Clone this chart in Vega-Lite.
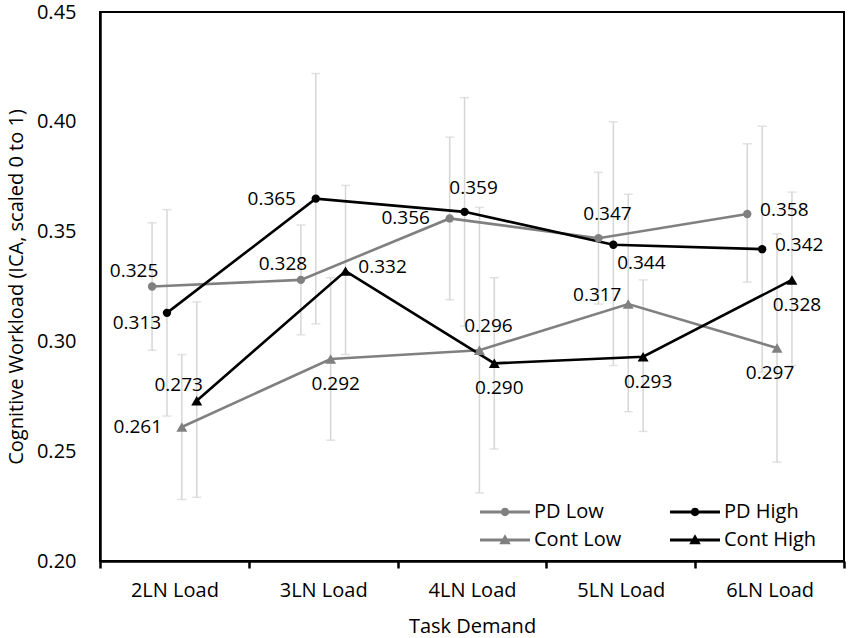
{
  "$schema": "https://vega.github.io/schema/vega-lite/v6.json",
  "width": 744,
  "height": 549,
  "autosize": {"type": "none"},
  "padding": {"left": 100, "top": 12, "right": 6, "bottom": 77},
  "data": {
    "values": [
      {"task": "2LN Load", "series": "PD Low", "mean": 0.325, "lo": 0.296, "hi": 0.354},
      {"task": "2LN Load", "series": "PD High", "mean": 0.313, "lo": 0.266, "hi": 0.360},
      {"task": "2LN Load", "series": "Cont Low", "mean": 0.261, "lo": 0.228, "hi": 0.294},
      {"task": "2LN Load", "series": "Cont High", "mean": 0.273, "lo": 0.229, "hi": 0.318},
      {"task": "3LN Load", "series": "PD Low", "mean": 0.328, "lo": 0.303, "hi": 0.353},
      {"task": "3LN Load", "series": "PD High", "mean": 0.365, "lo": 0.308, "hi": 0.422},
      {"task": "3LN Load", "series": "Cont Low", "mean": 0.292, "lo": 0.255, "hi": 0.329},
      {"task": "3LN Load", "series": "Cont High", "mean": 0.332, "lo": 0.294, "hi": 0.371},
      {"task": "4LN Load", "series": "PD Low", "mean": 0.356, "lo": 0.319, "hi": 0.393},
      {"task": "4LN Load", "series": "PD High", "mean": 0.359, "lo": 0.307, "hi": 0.411},
      {"task": "4LN Load", "series": "Cont Low", "mean": 0.296, "lo": 0.231, "hi": 0.361},
      {"task": "4LN Load", "series": "Cont High", "mean": 0.290, "lo": 0.251, "hi": 0.329},
      {"task": "5LN Load", "series": "PD Low", "mean": 0.347, "lo": 0.317, "hi": 0.377},
      {"task": "5LN Load", "series": "PD High", "mean": 0.344, "lo": 0.289, "hi": 0.400},
      {"task": "5LN Load", "series": "Cont Low", "mean": 0.317, "lo": 0.268, "hi": 0.367},
      {"task": "5LN Load", "series": "Cont High", "mean": 0.293, "lo": 0.259, "hi": 0.328},
      {"task": "6LN Load", "series": "PD Low", "mean": 0.358, "lo": 0.327, "hi": 0.390},
      {"task": "6LN Load", "series": "PD High", "mean": 0.342, "lo": 0.286, "hi": 0.398},
      {"task": "6LN Load", "series": "Cont Low", "mean": 0.297, "lo": 0.245, "hi": 0.349},
      {"task": "6LN Load", "series": "Cont High", "mean": 0.328, "lo": 0.289, "hi": 0.368}
    ]
  },
  "encoding": {
    "x": {
      "field": "task", "type": "nominal", "sort": null, "title": "Task Demand",
      "scale": {"paddingInner": 0, "paddingOuter": 0},
      "axis": {"labelAngle": 0, "tickBand": "extent", "tickSize": 7, "tickWidth": 2.5, "tickColor": "#000", "labelPadding": 12, "titlePadding": 16}
    },
    "xOffset": {
      "field": "series", "type": "nominal",
      "scale": {"domain": ["_a", "_b", "_c", "PD Low", "PD High", "Cont Low", "Cont High", "_d", "_e", "_f"], "paddingInner": 0, "paddingOuter": 0}
    },
    "y": {
      "field": "mean", "type": "quantitative", "title": "Cognitive Workload (ICA, scaled 0 to 1)",
      "scale": {"domain": [0.2, 0.45], "nice": false, "zero": false},
      "axis": {"values": [0.2, 0.25, 0.3, 0.35, 0.4, 0.45], "format": ".2f", "ticks": false, "labelPadding": 24, "titlePadding": 10}
    },
    "color": {
      "field": "series", "type": "nominal",
      "scale": {"domain": ["PD Low", "PD High", "Cont Low", "Cont High"], "range": ["#808080", "#000000", "#808080", "#000000"]},
      "legend": {"title": null}
    }
  },
  "layer": [
    {
      "mark": {"type": "rule", "strokeWidth": 1.5},
      "encoding": {
        "y": {"field": "lo", "type": "quantitative", "title": "Cognitive Workload (ICA, scaled 0 to 1)", "scale": {"domain": [0.2, 0.45], "nice": false, "zero": false}},
        "y2": {"field": "hi"},
        "color": {"value": "#d6d6d6"}
      }
    },
    {
      "mark": {"type": "tick", "size": 9, "thickness": 1.5},
      "encoding": {
        "y": {"field": "lo", "type": "quantitative", "title": "Cognitive Workload (ICA, scaled 0 to 1)", "scale": {"domain": [0.2, 0.45], "nice": false, "zero": false}},
        "color": {"value": "#d6d6d6"}
      }
    },
    {
      "mark": {"type": "tick", "size": 9, "thickness": 1.5},
      "encoding": {
        "y": {"field": "hi", "type": "quantitative", "title": "Cognitive Workload (ICA, scaled 0 to 1)", "scale": {"domain": [0.2, 0.45], "nice": false, "zero": false}},
        "color": {"value": "#d6d6d6"}
      }
    },
    {
      "mark": {"type": "line", "strokeWidth": 2.6},
      "encoding": {}
    },
    {
      "transform": [{"filter": "indexof(datum.series, 'PD') === 0"}],
      "mark": {"type": "point", "shape": "circle", "filled": true, "opacity": 1, "size": 70},
      "encoding": {}
    },
    {
      "transform": [{"filter": "indexof(datum.series, 'Cont') === 0"}],
      "mark": {"type": "point", "shape": "triangle-up", "filled": true, "opacity": 1, "size": 120},
      "encoding": {}
    },
    {
      "transform": [{"filter": "false"}],
      "mark": {"type": "point", "filled": true, "opacity": 1},
      "encoding": {
        "shape": {
          "field": "series", "type": "nominal",
          "scale": {
            "domain": ["PD Low", "PD High", "Cont Low", "Cont High"],
            "range": [
              "M-2.5,-0.16H2.5V0.16H-2.5Z M0.42,0A0.42,0.42,0,1,1,-0.42,0A0.42,0.42,0,1,1,0.42,0Z",
              "M-2.5,-0.16H2.5V0.16H-2.5Z M0.42,0A0.42,0.42,0,1,1,-0.42,0A0.42,0.42,0,1,1,0.42,0Z",
              "M-2.5,-0.16H2.5V0.16H-2.5Z M0,-0.575L0.575,0.425L-0.575,0.425Z",
              "M-2.5,-0.16H2.5V0.16H-2.5Z M0,-0.575L0.575,0.425L-0.575,0.425Z"
            ]
          },
          "legend": {"title": null}
        }
      }
    },
    {
      "transform": [{"filter": "indexof(['PD Low|4LN Load', 'PD High|3LN Load', 'Cont Low|2LN Load'], datum.series + '|' + datum.task) >= 0"}],
      "mark": {"type": "text", "dx": -44, "dy": 0, "font": "Open Sans", "fontSize": 19},
      "encoding": {"text": {"field": "mean", "type": "quantitative", "format": ".3f"}, "color": {"value": "#000"}}
    },
    {
      "transform": [{"filter": "indexof(['PD Low|2LN Load', 'PD Low|3LN Load', 'Cont High|2LN Load'], datum.series + '|' + datum.task) >= 0"}],
      "mark": {"type": "text", "dx": -18, "dy": -16, "font": "Open Sans", "fontSize": 19},
      "encoding": {"text": {"field": "mean", "type": "quantitative", "format": ".3f"}, "color": {"value": "#000"}}
    },
    {
      "transform": [{"filter": "indexof(['PD High|2LN Load'], datum.series + '|' + datum.task) >= 0"}],
      "mark": {"type": "text", "dx": -30, "dy": 10, "font": "Open Sans", "fontSize": 19},
      "encoding": {"text": {"field": "mean", "type": "quantitative", "format": ".3f"}, "color": {"value": "#000"}}
    },
    {
      "transform": [{"filter": "indexof(['Cont Low|5LN Load'], datum.series + '|' + datum.task) >= 0"}],
      "mark": {"type": "text", "dx": -31, "dy": -9, "font": "Open Sans", "fontSize": 19},
      "encoding": {"text": {"field": "mean", "type": "quantitative", "format": ".3f"}, "color": {"value": "#000"}}
    },
    {
      "transform": [{"filter": "indexof(['PD Low|5LN Load', 'PD High|4LN Load', 'Cont Low|4LN Load'], datum.series + '|' + datum.task) >= 0"}],
      "mark": {"type": "text", "dx": 9, "dy": -24, "font": "Open Sans", "fontSize": 19},
      "encoding": {"text": {"field": "mean", "type": "quantitative", "format": ".3f"}, "color": {"value": "#000"}}
    },
    {
      "transform": [{"filter": "indexof(['PD Low|6LN Load', 'PD High|6LN Load', 'Cont High|3LN Load'], datum.series + '|' + datum.task) >= 0"}],
      "mark": {"type": "text", "dx": 37, "dy": -4, "font": "Open Sans", "fontSize": 19},
      "encoding": {"text": {"field": "mean", "type": "quantitative", "format": ".3f"}, "color": {"value": "#000"}}
    },
    {
      "transform": [{"filter": "indexof(['Cont Low|3LN Load', 'Cont High|4LN Load', 'Cont High|5LN Load', 'Cont High|6LN Load'], datum.series + '|' + datum.task) >= 0"}],
      "mark": {"type": "text", "dx": 5, "dy": 25, "font": "Open Sans", "fontSize": 19},
      "encoding": {"text": {"field": "mean", "type": "quantitative", "format": ".3f"}, "color": {"value": "#000"}}
    },
    {
      "transform": [{"filter": "indexof(['Cont Low|6LN Load'], datum.series + '|' + datum.task) >= 0"}],
      "mark": {"type": "text", "dx": -7, "dy": 25, "font": "Open Sans", "fontSize": 19},
      "encoding": {"text": {"field": "mean", "type": "quantitative", "format": ".3f"}, "color": {"value": "#000"}}
    },
    {
      "transform": [{"filter": "indexof(['PD High|5LN Load'], datum.series + '|' + datum.task) >= 0"}],
      "mark": {"type": "text", "dx": 28, "dy": 18, "font": "Open Sans", "fontSize": 19},
      "encoding": {"text": {"field": "mean", "type": "quantitative", "format": ".3f"}, "color": {"value": "#000"}}
    }
  ],
  "config": {
    "view": {"stroke": "#000", "strokeWidth": 2},
    "axis": {
      "grid": false, "domainColor": "#000", "domainWidth": 2.5,
      "labelFont": "Open Sans", "labelFontSize": 20, "labelColor": "#000",
      "titleFont": "Open Sans", "titleFontSize": 20, "titleFontWeight": "normal", "titleColor": "#000"
    },
    "legend": {
      "orient": "none", "legendX": 395, "legendY": 490, "columns": 2, "direction": "horizontal", "columnPadding": 48, "rowPadding": 8,
      "labelFont": "Open Sans", "labelFontSize": 20, "labelColor": "#000", "labelOffset": 19,
      "symbolSize": 400, "symbolStrokeWidth": 0
    }
  }
}
